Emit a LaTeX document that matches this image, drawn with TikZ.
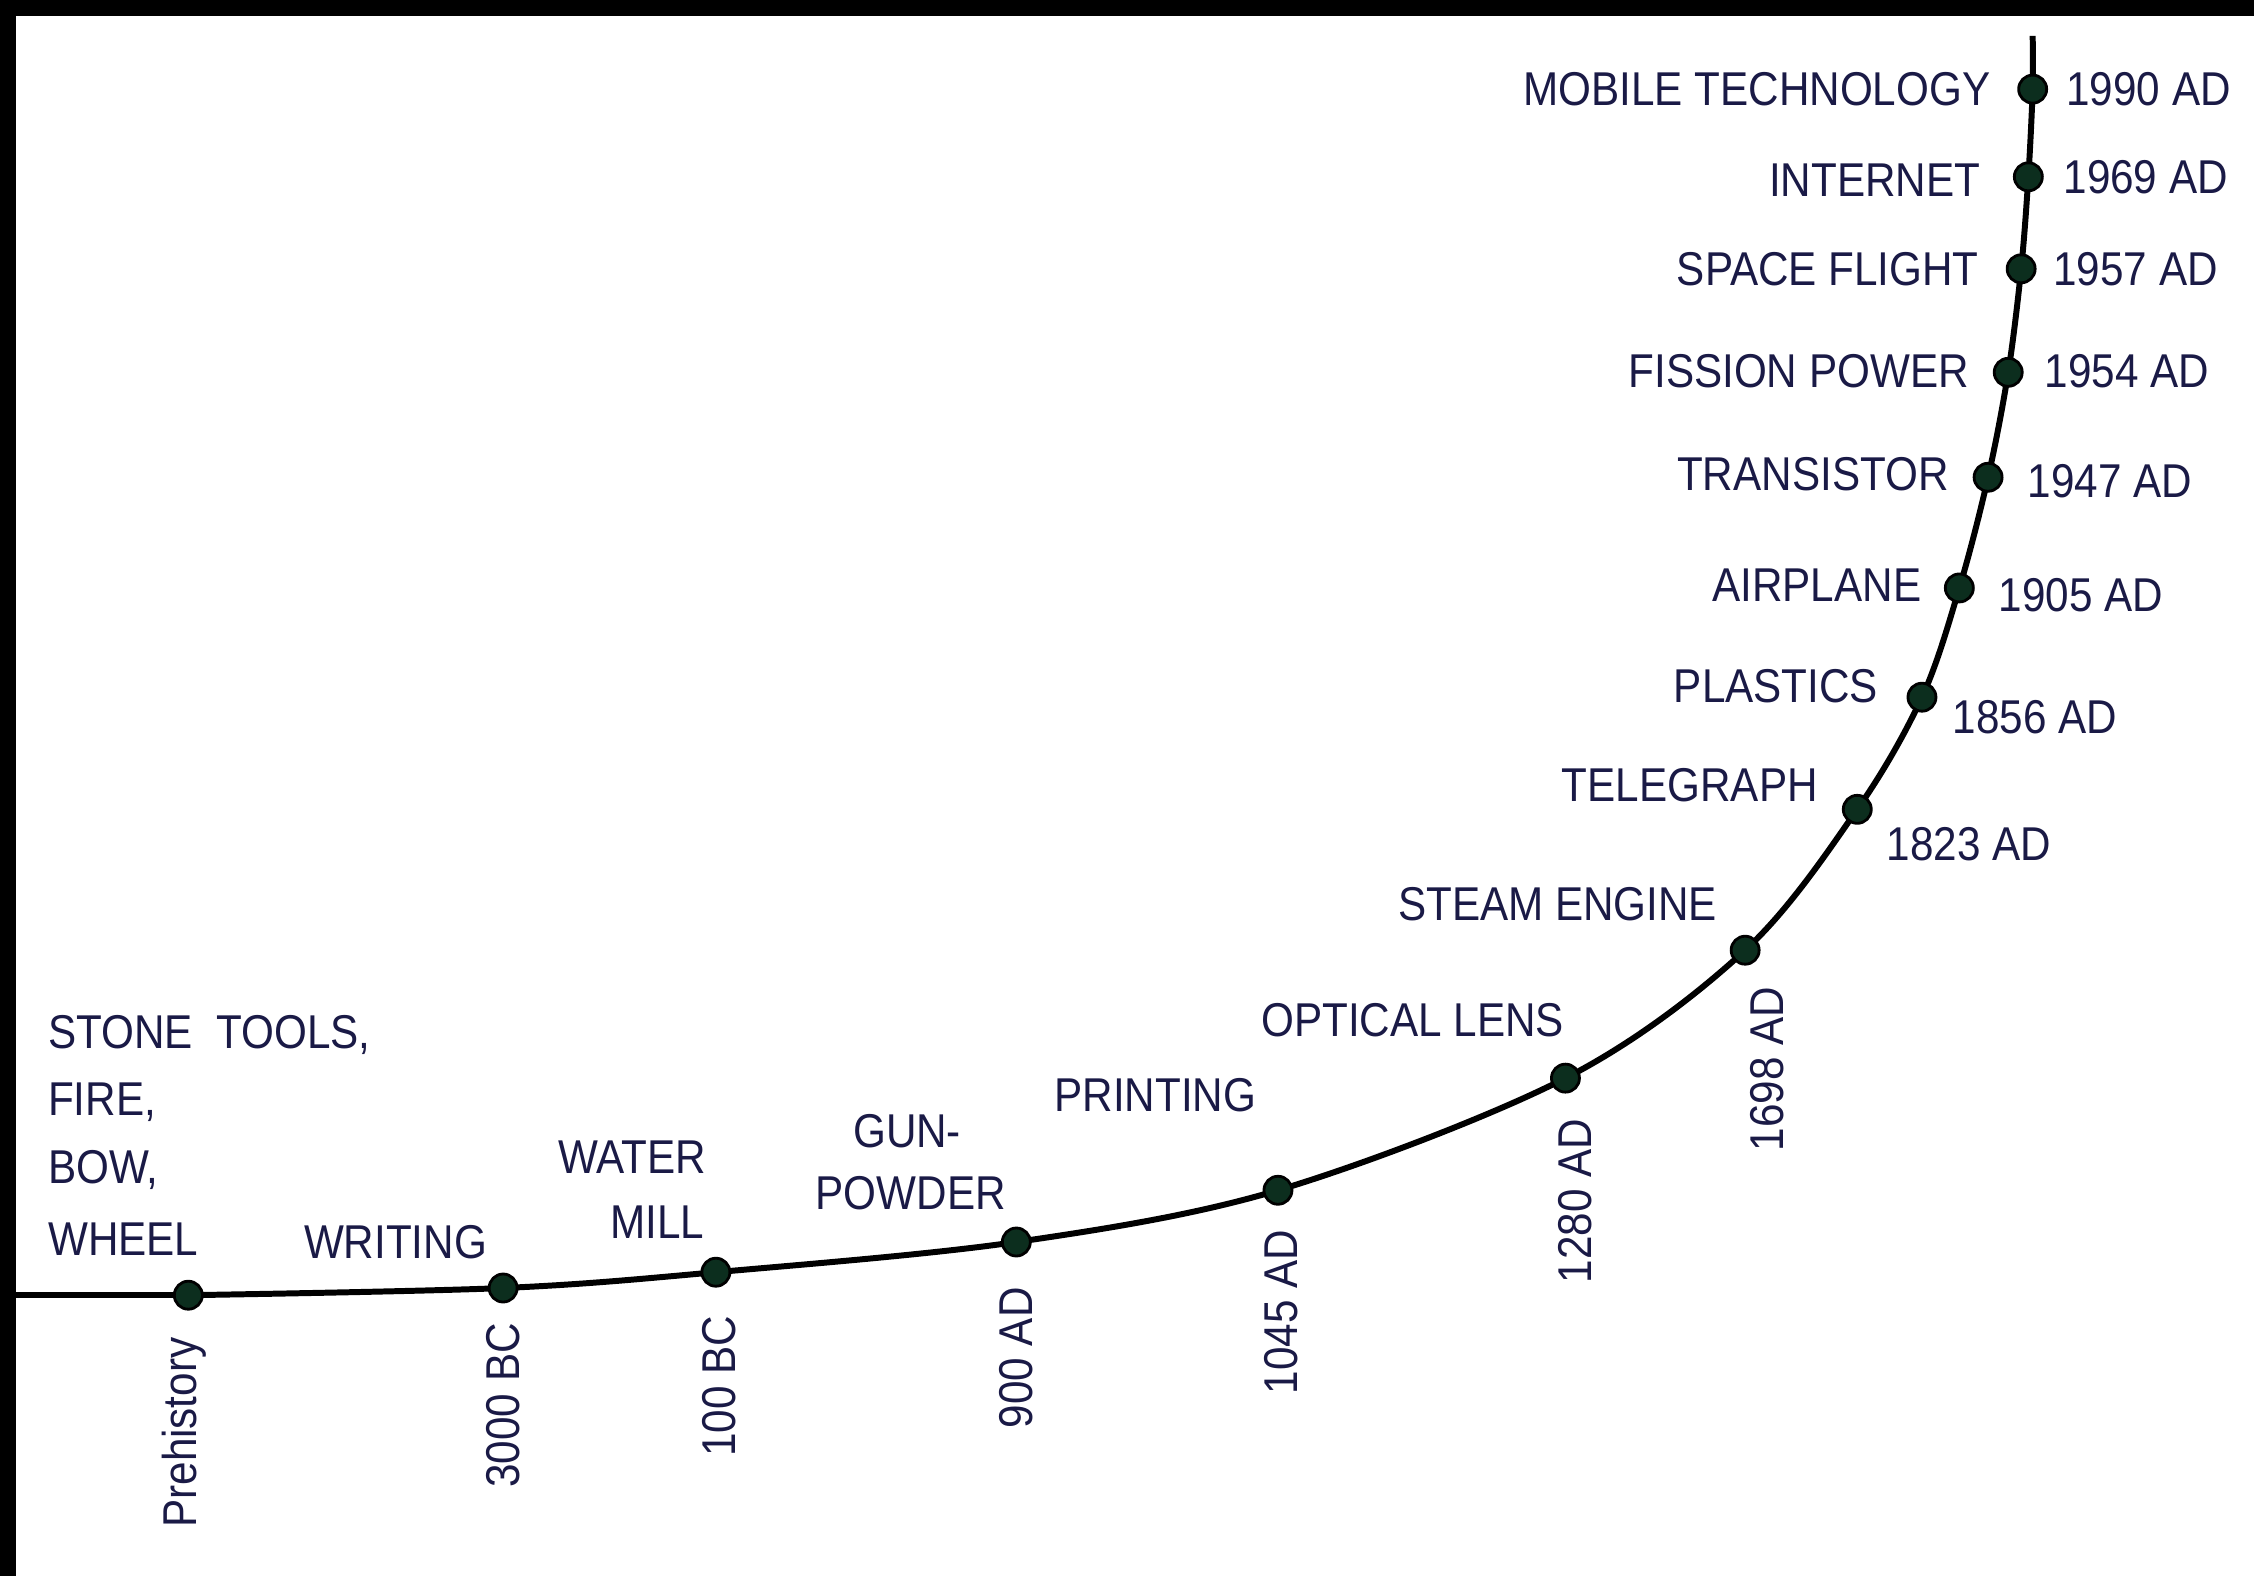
\documentclass[tikz,border=0pt]{standalone}
\usepackage{fontspec}
\setmainfont{Liberation Sans}
\newfontfamily\labelfont[FakeStretch=0.89]{Liberation Sans}
\usetikzlibrary{positioning}

\definecolor{labelblue}{RGB}{26,26,70}
\definecolor{dotgreen}{RGB}{12,46,30}

\begin{document}
\begin{tikzpicture}[x=0.14375mm, y=-0.14375mm,
    event/.style={inner sep=0pt, text=labelblue, font=\labelfont\fontsize{13.5}{16}\selectfont},
    date/.style={event},
    vdate/.style={event, rotate=90, anchor=east},
    dot/.style={circle, fill=dotgreen, draw=black, line width=0.8pt, minimum size=2.8mm, inner sep=0pt},
    timeline/.style={line width=1.7pt, line join=round}]

        % Page and black frame
        \fill[white] (0,0) rectangle (1568,1096);
        \fill[black] (0,0) rectangle (1568,11);
        \fill[black] (0,0) rectangle (11,1096);
        \useasboundingbox (0,0) rectangle (1568,1096);

        % Points on the curve
        \coordinate (start) at (11,901);
        \coordinate (pre) at (131,901);
        \coordinate (t3000) at (350,896);
        \coordinate (t100) at (498,885);
        \coordinate (t900) at (707,864);
        \coordinate (t1045) at (889,828);
        \coordinate (t1280) at (1089,750);
        \coordinate (t1698) at (1214,661);
        \coordinate (t1823) at (1292,563);
        \coordinate (t1856) at (1337,485);
        \coordinate (t1905) at (1363,409);
        \coordinate (t1947) at (1383,332);
        \coordinate (t1954) at (1397,259);
        \coordinate (t1957) at (1406,187);
        \coordinate (t1969) at (1411,123);
        \coordinate (t1990) at (1414,62);
        \coordinate (top) at (1414,25);

        % Draw the curve
        \draw[timeline] (start) -- (pre);
        \draw[timeline] plot[smooth, tension=0.55] coordinates {(pre) (t3000) (t100) (t900) (t1045) (t1280) (t1698) (t1823) (t1856) (t1905) (t1947) (t1954) (t1957) (t1969) (t1990) (top)};

        % Draw the dots
        \node[dot] (pre-dot) at (pre) {};
        \node[dot] (t3000-dot) at (t3000) {};
        \node[dot] (t100-dot) at (t100) {};
        \node[dot] (t900-dot) at (t900) {};
        \node[dot] (t1045-dot) at (t1045) {};
        \node[dot] (t1280-dot) at (t1280) {};
        \node[dot] (t1698-dot) at (t1698) {};
        \node[dot] (t1823-dot) at (t1823) {};
        \node[dot] (t1856-dot) at (t1856) {};
        \node[dot] (t1905-dot) at (t1905) {};
        \node[dot] (t1947-dot) at (t1947) {};
        \node[dot] (t1954-dot) at (t1954) {};
        \node[dot] (t1957-dot) at (t1957) {};
        \node[dot] (t1969-dot) at (t1969) {};
        \node[dot] (t1990-dot) at (t1990) {};

        % Inventions along the bottom
        \node[event, anchor=west] (stone) at (33,720) {STONE\ \ TOOLS,};
        \node[event, anchor=west] (fire) at (33,767) {FIRE,};
        \node[event, anchor=west] (bow) at (33,814) {BOW,};
        \node[event, anchor=west] (wheel) at (33,862) {WHEEL};
        \node[event, anchor=west] (writing) at (211,864) {WRITING};
        \node[event, anchor=west] (water) at (388,805) {WATER};
        \node[event, anchor=west] (mill) at (424,850) {MILL};
        \node[event, anchor=west] (gun) at (593,787) {GUN-};
        \node[event, anchor=west] (powder) at (567,830) {POWDER};
        \node[event, anchor=west] (printing) at (733,762) {PRINTING};
        \node[event, anchor=west] (lens) at (877,710) {OPTICAL LENS};
        \node[event, anchor=east] (steam) at (1195,629) {STEAM ENGINE};

        % Inventions up the right side
        \node[event, anchor=east] (telegraph) at (1265,546) {TELEGRAPH};
        \node[event, anchor=east] (plastics) at (1307,477) {PLASTICS};
        \node[event, anchor=east] (airplane) at (1337,407) {AIRPLANE};
        \node[event, anchor=east] (transistor) at (1356,330) {TRANSISTOR};
        \node[event, anchor=east] (fission) at (1370,258) {FISSION POWER};
        \node[event, anchor=east] (space) at (1377,187) {SPACE FLIGHT};
        \node[event, anchor=east] (internet) at (1378,125) {INTERNET};
        \node[event, anchor=east] (mobile) at (1385,62) {MOBILE TECHNOLOGY};

        % Dates under the curve
        \node[vdate] (d-pre) at (128,930) {Prehistory};
        \node[vdate] (d3000) at (350,920) {3000 BC};
        \node[vdate] (d100) at (500,915) {100 BC};
        \node[vdate] (d900) at (707,895) {900 AD};
        \node[vdate] (d1045) at (891,855) {1045 AD};
        \node[vdate] (d1280) at (1096,778) {1280 AD};
        \node[vdate] (d1698) at (1229,686) {1698 AD};

        % Dates right of the curve
        \node[date, anchor=west] (d1823) at (1312,587) {1823 AD};
        \node[date, anchor=west] (d1856) at (1358,499) {1856 AD};
        \node[date, anchor=west] (d1905) at (1390,414) {1905 AD};
        \node[date, anchor=west] (d1947) at (1410,335) {1947 AD};
        \node[date, anchor=west] (d1954) at (1422,258) {1954 AD};
        \node[date, anchor=west] (d1957) at (1428,187) {1957 AD};
        \node[date, anchor=west] (d1969) at (1435,123) {1969 AD};
        \node[date, anchor=west] (d1990) at (1437,62) {1990 AD};
    \end{tikzpicture}
\end{document}
